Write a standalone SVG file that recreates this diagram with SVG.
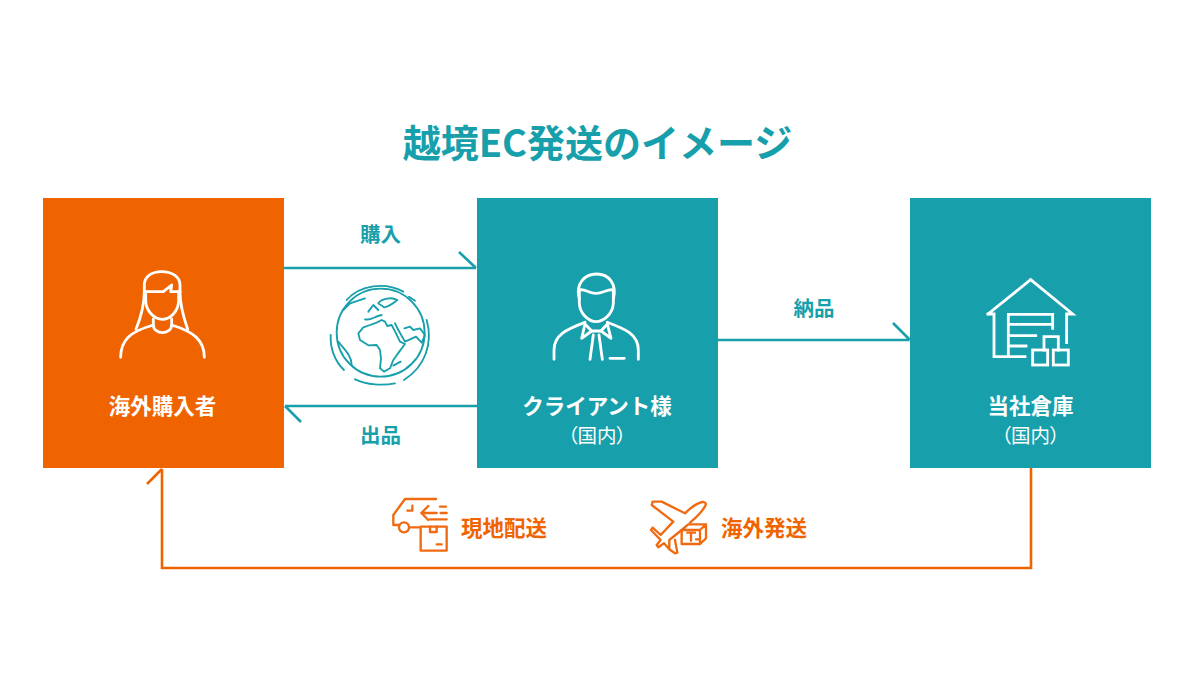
<svg xmlns="http://www.w3.org/2000/svg" width="1200" height="700" viewBox="0 0 1200 700">
<style>
text{font-family:"Noto Sans CJK JP","Noto Sans",sans-serif;text-anchor:middle}
.b{font-weight:700;font-size:21.5px}
.w{fill:#fff}.t{fill:#179fab}.o{fill:#ef6400}
.r{font-size:19.5px;font-weight:400;fill:#fff;font-feature-settings:"palt"}
.l{font-size:20.5px}
.ic{fill:none;stroke-linecap:round;stroke-linejoin:round}
.iw{stroke:#fff;stroke-width:8.5}
.it{stroke:#179fab;stroke-width:5.5}
.io{stroke:#ef6a10;stroke-width:7}
.ct{fill:none;stroke:#179fab;stroke-width:2.6}
.co{fill:none;stroke:#ef6400;stroke-width:2.6}
</style>
<rect width="1200" height="700" fill="#fff"/>
<text id="title" x="597.5" y="157" font-size="38" font-weight="700" class="t">越境EC発送のイメージ</text>

<g id="connectors">
<path class="ct" d="M284 268H476M459 252L476 268"/>
<path class="ct" d="M477 406H285M285 406L301 422"/>
<path class="ct" d="M718 340H909M893 323L910 340"/>
<path class="co" d="M1031 468V568H162V469M147 484L162 469"/>
</g>

<g id="node-buyer">
<rect x="43" y="198" width="241" height="270" fill="#ef6400"/>
<g class="ic iw" transform="translate(100 250) scale(.3333)">
<path d="M133 125V105C133 80 155 65 185 65C215 65 240 80 240 105V125"/>
<path d="M133 125H190L215 105L212 125H240"/>
<path d="M137 125V150C137 185 165 208 187 208C210 208 236 185 236 150V125"/>
<path d="M133 125C133 165 125 195 108 238M240 125C240 165 250 200 263 238"/>
<path d="M160 207V225C160 240 175 248 187 248C200 248 215 240 215 225V207"/>
<path d="M62 322C62 270 90 245 160 225M313 322C313 270 280 245 215 225"/>
</g>
<text x="162.500" y="414" class="b w">海外購入者</text>
</g>

<g id="node-client">
<rect x="477" y="198" width="241" height="270" fill="#179fab"/>
<g class="ic iw" transform="translate(530 260) scale(.3333)">
<path d="M148 118C135 70 165 42 200 42C235 42 262 70 250 118"/>
<path d="M148 90C165 85 175 100 198 100C220 100 235 85 250 90"/>
<path d="M148 90V130C150 165 180 185 198 185C218 185 248 165 250 130V90"/>
<path d="M72 298V270C72 220 120 205 165 187M325 298V270C325 220 280 205 232 187"/>
<path d="M165 192L155 235L185 213L165 192M232 192L243 235L213 213L232 192"/>
<path d="M185 213H213M190 225L180 298M207 225L217 298M240 295H283"/>
</g>
<text x="597" y="414" class="b w">クライアント様</text>
<text x="597" y="443" class="r">（国内）</text>
</g>

<g id="node-warehouse">
<rect x="910" y="198" width="241" height="270" fill="#179fab"/>
<g class="ic iw" transform="translate(970 265) scale(.3333)" style="stroke-linecap:square;stroke-linejoin:miter">
<path d="M54 147L182 44L308 147H290V233M54 147H72V275H165"/>
<path d="M115 275V148H248V190M115 178H248M115 212H197M115 243H168"/>
<rect x="188" y="255" width="45" height="45"/>
<rect x="250" y="255" width="45" height="45"/>
<path d="M222 255V215H265V255"/>
</g>
<text x="1030.500" y="414" class="b w">当社倉庫</text>
<text x="1030.500" y="443" class="r">（国内）</text>
</g>

<g id="globe">
<g class="ic it" transform="translate(310 270) scale(.3333)">
<circle cx="212" cy="188" r="132"/>
<path d="M110 90C150 45 225 35 280 65M297 80L315 92M350 150C370 220 345 290 282 330M135 328C170 345 220 347 255 340M62 195C60 235 75 275 102 300"/>
<path d="M160 172L145 190L150 210L175 226L200 225L210 240L213 265L210 295L222 305L240 295L250 270L268 245L285 222L270 215L258 190L245 165L232 168L225 155L215 150L200 158L180 165Z"/>
<path d="M255 160L265 180L285 215L318 200L335 218L345 195L330 175L310 180L300 170L283 175"/>
<path d="M165 148C185 152 190 140 215 135M175 125L190 105L205 120M205 100C215 85 245 80 262 90C250 100 235 110 222 112C215 105 210 105 205 100"/>
<path d="M85 215C100 235 125 255 125 285M250 287L272 275M100 120L120 100L165 85"/>
</g>
</g>

<g id="label-buy"><text x="380.500" y="242" class="b t l">購入</text></g>
<g id="label-sell"><text x="380.500" y="443" class="b t l">出品</text></g>
<g id="label-deliver"><text x="814" y="316" class="b t l">納品</text></g>

<g id="local-delivery">
<g class="ic io" transform="translate(380 490) scale(.3333)">
<path d="M58 105H40V75L75 27H168M88 112H118"/>
<circle cx="72" cy="112" r="15"/>
<path d="M97 47V62H82M145 48L124 69L145 90M124 69H170M182 69H200M180 50H198M150 88H200"/>
<rect x="122" y="110" width="78" height="72"/>
<path d="M150 110V126H170V110M170 163H185"/>
</g>
<text x="504" y="536" class="b o">現地配送</text>
</g>

<g id="overseas-shipping">
<g class="ic io" transform="translate(640 490) scale(.3333)">
<path d="M150 98C170 82 195 55 198 42C195 30 170 35 135 70L65 35H38L35 45L100 95L62 135L38 113L33 120L62 150L50 165L55 172L72 160L88 178V150L125 120M88 178L105 190L112 188L105 150"/>
<path d="M125 120L145 103H198V145L180 162H125ZM125 120H180L198 103M180 120V162"/>
<path d="M142 128H165M153 128V152M168 148H176"/>
</g>
<text x="764" y="536" class="b o">海外発送</text>
</g>
</svg>
